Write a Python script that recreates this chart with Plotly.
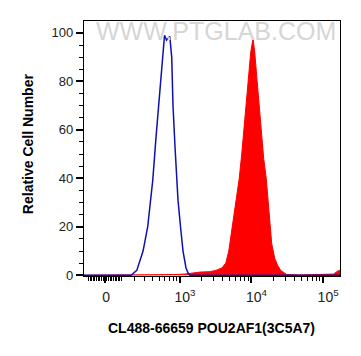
import numpy as np
import plotly.graph_objects as go

# ---- data (fluorescence intensity vs. relative cell number) ----
ctrl_intensity = [-140, 0, 100, 170, 219, 281, 334, 400, 449, 520, 551, 600, 641,
                  715, 762, 795, 849, 892, 937, 1017, 1103, 1216, 1297, 1384,
                  5000, 200000]
ctrl_count = [0, 0, 0, 0, 2, 10, 20, 39, 57, 80, 89, 99, 97,
              98.5, 90, 70, 53, 40, 31, 20, 10, 3, 1, 0,
              0, 0]

stain_intensity = [-140, 0, 500, 850, 1174, 1470, 1901, 2620, 3178, 3853,
                   4381, 4825, 5145, 5664, 6237, 6759, 7322, 7884, 8518, 9170,
                   9777, 10530, 11120, 11860, 12850, 13700, 14840, 16080, 17150, 17990,
                   19190, 21130, 23270, 25620, 28210, 31070, 47170, 89670, 140500, 154700,
                   167700, 180000]
stain_count = [0, 0, 0, 0.3, 0.5, 1, 1.3, 1.5, 2, 3,
               5, 10, 16, 25, 32, 40, 50, 60, 72, 82,
               92, 97.7, 92, 82, 70, 60, 48, 40, 30, 21,
               13, 7, 4, 2, 1, 0.3, 0.1, 0.2, 0.5, 1.5,
               2, 2]

x_major_vals = [0, 1e3, 1e4, 1e5]
x_major_text = ["0&nbsp;&nbsp;", "10<sup>3</sup>", "10<sup>4</sup>", "10<sup>5</sup>"]
x_minor_vals = ([-v for v in range(10, 101, 10)] + list(range(10, 100, 10)) +
                list(range(100, 1000, 100)) + list(range(2000, 10000, 1000)) +
                list(range(20000, 100000, 10000)))
x_limits = [-132, 172000]

y_major_vals = [0, 20, 40, 60, 80, 100]

x_title = "CL488-66659 POU2AF1(3C5A7)"
y_title = "Relative Cell Number"
watermark = "WWW.PTGLAB.COM"

# ---- biexponential (logicle-like) display scale ----
W = 90.7
def biex(v):
    return np.arcsinh(np.asarray(v, dtype=float) / (2 * W)) / np.log(10)

FONT = "Liberation Sans, Arial, sans-serif"

fig = go.Figure()
fig.add_trace(go.Scatter(
    x=biex(stain_intensity), y=stain_count, mode="lines",
    line=dict(color="#ff0000", width=1), fill="tozeroy", fillcolor="#ff0000",
    hoverinfo="skip"))
fig.add_trace(go.Scatter(
    x=biex(ctrl_intensity), y=ctrl_count, mode="lines",
    line=dict(color="#1010b0", width=1.5), hoverinfo="skip"))

fig.update_layout(
    width=361, height=356,
    margin=dict(l=84, r=21, t=21, b=80),
    plot_bgcolor="white", paper_bgcolor="white",
    showlegend=False,
    font=dict(family=FONT, color="#222"),
)

fig.update_xaxes(
    range=list(biex(x_limits)),
    tickmode="array", tickvals=list(biex(x_major_vals)), ticktext=x_major_text,
    ticks="outside", ticklen=6, tickwidth=1.5, tickcolor="black",
    ticklabelshift=5, ticklabelstandoff=2,
    tickfont=dict(size=14, family=FONT, color="#222"),
    minor=dict(tickmode="array", tickvals=list(biex(x_minor_vals)),
               ticks="outside", ticklen=3.5, tickwidth=1, tickcolor="black"),
    showline=True, linecolor="black", linewidth=1.3, mirror=True,
    showgrid=False, zeroline=False,
)
fig.update_yaxes(
    range=[-0.3, 104.9],
    tickmode="array", tickvals=y_major_vals,
    ticks="outside", ticklen=7, tickwidth=1.5, tickcolor="black",
    tickfont=dict(size=13, family=FONT, color="#222"),
    minor=dict(dtick=5, tick0=0, ticks="outside", ticklen=3.5, tickwidth=1,
               tickcolor="black"),
    showline=True, linecolor="black", linewidth=1.3, mirror=True,
    showgrid=False, zeroline=False,
)

fig.add_annotation(text="<b>" + x_title + "</b>", xref="paper", yref="paper",
                   x=0.498, y=-0.203, xanchor="center", yanchor="middle",
                   showarrow=False, font=dict(size=14, family=FONT, color="black"))
fig.add_annotation(text="<b>" + y_title + "</b>", xref="paper", yref="paper",
                   x=-0.2207, y=0.519, xanchor="center", yanchor="middle",
                   textangle=-90, showarrow=False,
                   font=dict(size=14, family=FONT, color="black"))
fig.add_annotation(text=watermark, xref="paper", yref="paper",
                   x=0.5156, y=0.9596, xanchor="center", yanchor="middle",
                   showarrow=False, font=dict(size=25, family=FONT, color="#d6d6d6"))

fig.write_html("out.html", config={"displayModeBar": False},
               post_script="document.body.style.margin='0';document.body.style.overflow='hidden';")
